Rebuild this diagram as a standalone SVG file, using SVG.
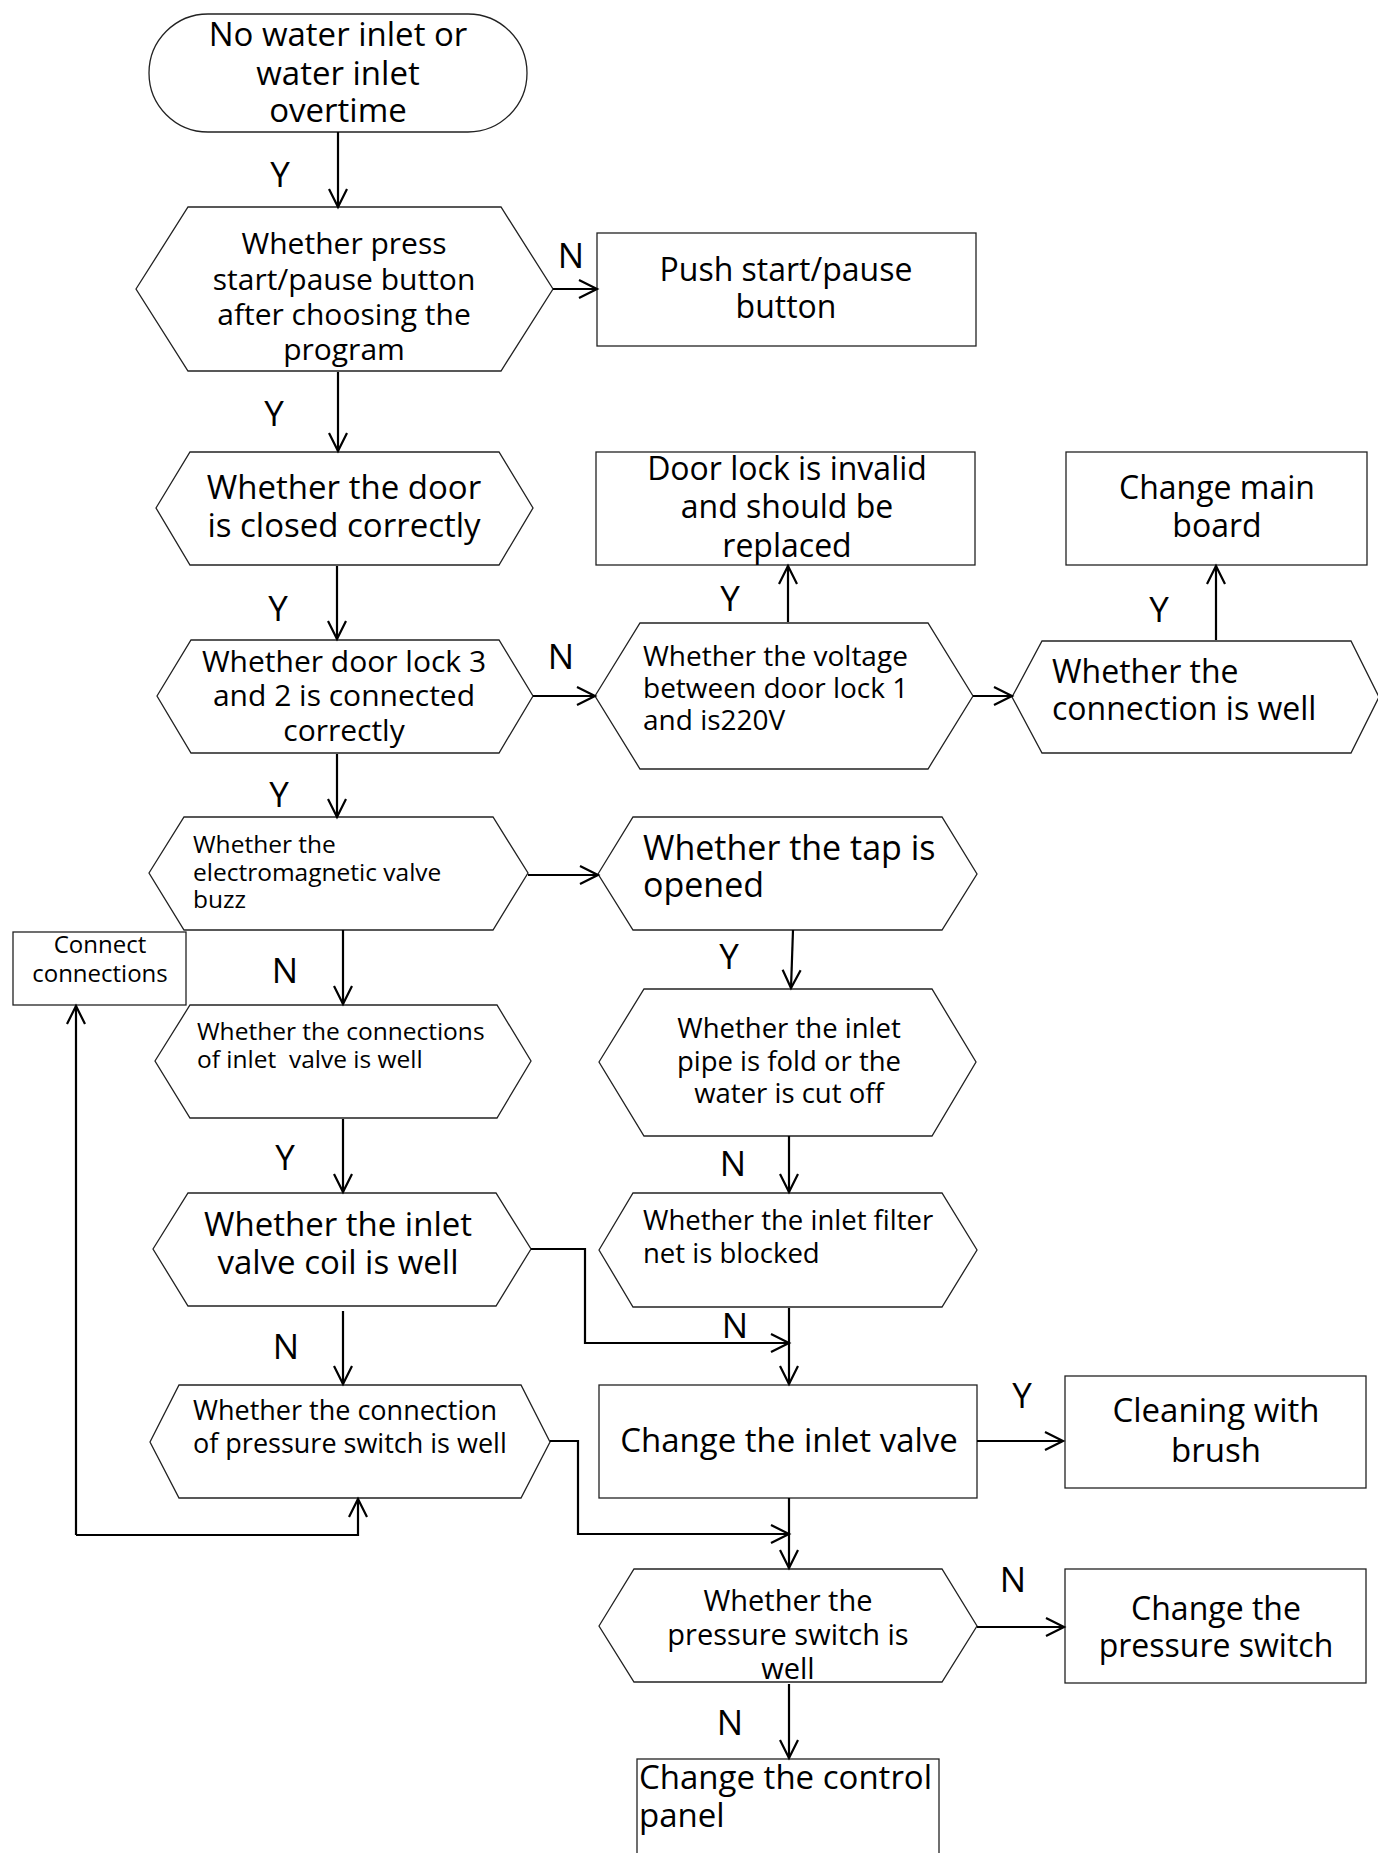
<svg xmlns="http://www.w3.org/2000/svg" width="1378" height="1853" viewBox="0 0 1378 1853">
<defs>
<style>
.s{fill:#fff;stroke:#222;stroke-width:1.3}
text{font-family:"Open Sans","Liberation Sans",sans-serif;fill:#000}
.c{text-anchor:middle}
.l{text-anchor:start}
.lbl{font-size:35px;text-anchor:middle}
.cn path,.cn polyline{fill:none;stroke:#000;stroke-width:2.2;marker-end:url(#ah)}
</style>
<marker id="ah" markerUnits="userSpaceOnUse" markerWidth="24" markerHeight="24" refX="20" refY="10" orient="auto" viewBox="0 0 24 20">
<path d="M2,1 L20,10 L2,19" fill="none" stroke="#000" stroke-width="2.2"/>
</marker>
</defs>
<rect width="1378" height="1853" fill="#fff"/>

<g id="start">
<rect class="s" x="149" y="14" width="378" height="118" rx="59" ry="59"/>
<text class="c" font-size="33" x="338" y="46">No water inlet or</text>
<text class="c" font-size="33" x="338" y="85">water inlet</text>
<text class="c" font-size="33" x="338" y="122">overtime</text>
</g>

<g id="q-press">
<polygon class="s" points="136,289 188,207 501,207 553,289 501,371 188,371"/>
<text class="c" font-size="30" x="344" y="254">Whether press</text>
<text class="c" font-size="30" x="344" y="290">start/pause button</text>
<text class="c" font-size="30" x="344" y="325">after choosing the</text>
<text class="c" font-size="30" x="344" y="360">program</text>
</g>

<g id="push">
<rect class="s" x="597" y="233" width="379" height="113"/>
<text class="c" font-size="32" x="786" y="281">Push start/pause</text>
<text class="c" font-size="32" x="786" y="318">button</text>
</g>

<g id="q-door">
<polygon class="s" points="156,508 190,452 499,452 533,508 499,565 190,565"/>
<text class="c" font-size="33" x="344" y="499">Whether the door</text>
<text class="c" font-size="33" x="344" y="537">is closed correctly</text>
</g>

<g id="q-lock">
<polygon class="s" points="157,696 191,640 499,640 533,696 499,753 191,753"/>
<text class="c" font-size="30" x="344" y="672">Whether door lock 3</text>
<text class="c" font-size="30" x="344" y="706">and 2 is connected</text>
<text class="c" font-size="30" x="344" y="741">correctly</text>
</g>

<g id="door-invalid">
<rect class="s" x="596" y="452" width="379" height="113"/>
<text class="c" font-size="32" x="787" y="480">Door lock is invalid</text>
<text class="c" font-size="32" x="787" y="518">and should be</text>
<text class="c" font-size="32" x="787" y="557">replaced</text>
</g>

<g id="q-voltage">
<polygon class="s" points="595,696 640,623 928,623 973,696 928,769 640,769"/>
<text class="l" font-size="28" x="643" y="666">Whether the voltage</text>
<text class="l" font-size="28" x="643" y="698">between door lock 1</text>
<text class="l" font-size="28" x="643" y="730">and is220V</text>
</g>

<g id="q-connection">
<polygon class="s" points="1012,697 1042,641 1351,641 1379,697 1351,753 1042,753"/>
<text class="l" font-size="32" x="1052" y="683">Whether the</text>
<text class="l" font-size="32" x="1052" y="720">connection is well</text>
</g>

<g id="main-board">
<rect class="s" x="1066" y="452" width="301" height="113"/>
<text class="c" font-size="32" x="1217" y="499">Change main</text>
<text class="c" font-size="32" x="1217" y="537">board</text>
</g>

<g id="q-buzz">
<polygon class="s" points="149,873 184,817 493,817 528,873 493,930 184,930"/>
<text class="l" font-size="24.5" x="193" y="853">Whether the</text>
<text class="l" font-size="24.5" x="193" y="881">electromagnetic valve</text>
<text class="l" font-size="24.5" x="193" y="908">buzz</text>
</g>

<g id="connect">
<rect class="s" x="13" y="932" width="173" height="73"/>
<text class="c" font-size="24" x="100" y="953">Connect</text>
<text class="c" font-size="24" x="100" y="982">connections</text>
</g>

<g id="q-valve-conn">
<polygon class="s" points="155,1061 190,1005 497,1005 531,1061 497,1118 190,1118"/>
<text class="l" font-size="24.5" x="197" y="1040">Whether the connections</text>
<text class="l" font-size="24.5" x="197" y="1068">of inlet&#160; valve is well</text>
</g>

<g id="q-tap">
<polygon class="s" points="598,874 633,817 942,817 977,874 942,930 633,930"/>
<text class="l" font-size="34" x="643" y="860">Whether the tap is</text>
<text class="l" font-size="34" x="643" y="897">opened</text>
</g>

<g id="q-pipe">
<polygon class="s" points="599,1062 644,989 932,989 976,1062 932,1136 644,1136"/>
<text class="c" font-size="27.5" x="789" y="1038">Whether the inlet</text>
<text class="c" font-size="27.5" x="789" y="1071">pipe is fold or the</text>
<text class="c" font-size="27.5" x="789" y="1103">water is cut off</text>
</g>

<g id="q-filter">
<polygon class="s" points="599,1250 633,1193 942,1193 977,1250 942,1307 633,1307"/>
<text class="l" font-size="27.5" x="643" y="1230">Whether the inlet filter</text>
<text class="l" font-size="27.5" x="643" y="1263">net is blocked</text>
</g>

<g id="q-coil">
<polygon class="s" points="153,1249 188,1193 496,1193 531,1249 496,1306 188,1306"/>
<text class="c" font-size="33" x="338" y="1236">Whether the inlet</text>
<text class="c" font-size="33" x="338" y="1274">valve coil is well</text>
</g>

<g id="q-ps-conn">
<polygon class="s" points="150,1442 179,1385 521,1385 550,1442 521,1498 179,1498"/>
<text class="l" font-size="27" x="193" y="1420">Whether the connection</text>
<text class="l" font-size="27" x="193" y="1453">of pressure switch is well</text>
</g>

<g id="inlet-valve">
<rect class="s" x="599" y="1385" width="378" height="113"/>
<text class="c" font-size="33" x="789" y="1452">Change the inlet valve</text>
</g>

<g id="cleaning">
<rect class="s" x="1065" y="1376" width="301" height="112"/>
<text class="c" font-size="33" x="1216" y="1422">Cleaning with</text>
<text class="c" font-size="33" x="1216" y="1462">brush</text>
</g>

<g id="q-ps">
<polygon class="s" points="599,1626 634,1569 942,1569 977,1626 942,1682 634,1682"/>
<text class="c" font-size="29" x="788" y="1611">Whether the</text>
<text class="c" font-size="29" x="788" y="1645">pressure switch is</text>
<text class="c" font-size="29" x="788" y="1679">well</text>
</g>

<g id="pressure-switch">
<rect class="s" x="1065" y="1569" width="301" height="114"/>
<text class="c" font-size="32" x="1216" y="1620">Change the</text>
<text class="c" font-size="32" x="1216" y="1657">pressure switch</text>
</g>

<g id="control-panel">
<rect class="s" x="637" y="1759" width="302" height="120"/>
<text class="l" font-size="33" x="639" y="1789">Change the control</text>
<text class="l" font-size="33" x="639" y="1827">panel</text>
</g>

<g id="connectors" class="cn">
<path d="M338,132 L338,207"/>
<path d="M553,289 L597,289"/>
<path d="M338,372 L338,451"/>
<path d="M337,566 L337,639"/>
<path d="M533,696 L595,696"/>
<path d="M788,622 L788,566"/>
<path d="M973,696 L1012,696"/>
<path d="M1216,640 L1216,566"/>
<path d="M337,754 L337,817"/>
<path d="M528,875 L598,875"/>
<path d="M343,930 L343,1004"/>
<path d="M793,930 L791,988"/>
<path d="M343,1119 L343,1192"/>
<path d="M789,1136 L789,1192"/>
<polyline points="531,1249 585,1249 585,1343 789,1343"/>
<path d="M789,1308 L789,1384"/>
<path d="M343,1311 L343,1384"/>
<path d="M977,1441 L1063,1441"/>
<path d="M789,1498 L789,1568"/>
<polyline points="550,1441 578,1441 578,1534 789,1534"/>
<polyline points="76,1535 358,1535 358,1499"/>
<path d="M76,1535 L76,1006"/>
<path d="M977,1627 L1064,1627"/>
<path d="M789,1684 L789,1758"/>
</g>

<g id="labels">
<text class="lbl" x="280" y="187">Y</text>
<text class="lbl" x="571" y="268">N</text>
<text class="lbl" x="274" y="426">Y</text>
<text class="lbl" x="278" y="621">Y</text>
<text class="lbl" x="561" y="669">N</text>
<text class="lbl" x="730" y="611">Y</text>
<text class="lbl" x="1159" y="622">Y</text>
<text class="lbl" x="279" y="807">Y</text>
<text class="lbl" x="285" y="983">N</text>
<text class="lbl" x="729" y="969">Y</text>
<text class="lbl" x="733" y="1176">N</text>
<text class="lbl" x="285" y="1170">Y</text>
<text class="lbl" x="286" y="1359">N</text>
<text class="lbl" x="735" y="1338">N</text>
<text class="lbl" x="1022" y="1408">Y</text>
<text class="lbl" x="1013" y="1592">N</text>
<text class="lbl" x="730" y="1735">N</text>
</g>
</svg>
